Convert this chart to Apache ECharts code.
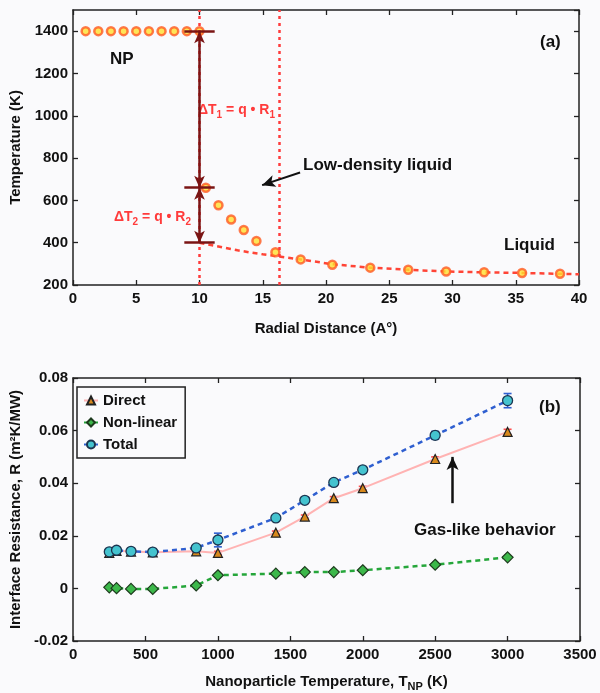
<!DOCTYPE html>
<html><head><meta charset="utf-8">
<script src="https://cdn.jsdelivr.net/npm/echarts@6/dist/echarts.min.js"></script>
<style>html,body{margin:0;padding:0;background:#fafafc}#c{width:600px;height:693px}</style>
</head><body><div id="c"></div>
<script>
// ---------- Panel (a) data ----------
const radius = [1,2,3,4,5,6,7,8,9,10,10.5,11.5,12.5,13.5,14.5,16,18,20.5,23.5,26.5,29.5,32.5,35.5,38.5];
const temperature = [1400,1400,1400,1400,1400,1400,1400,1400,1400,1400,660,577,510,460,408,355,321,296,282,272,264,260,257,253];
const fitRadius = [10,11,12,13,14,15,16,18,20.5,23.5,26.5,29.5,32.5,35.5,38.5,40];
const fitTemp = [400,388,376,364,354,345,337,321,298,282,272,264,260,257,253,251];
const boundaries = [10,16.3];
const bracketLevels = [1400,660,400];
const bracketSpan = [8.8,11.2];
const arrowLD = [[17.95,732],[14.95,672]];
const xTicksA = [0,40,5];
const yTicksA = [200,1500,200];

// ---------- Panel (b) data ----------
const tNP = [250,300,400,550,850,1000,1400,1600,1800,2000,2500,3000];
const rDirect = [0.0135,0.0143,0.0140,0.0137,0.0141,0.0135,0.0212,0.0273,0.0343,0.0381,0.0492,0.0595];
const errDirect = [0.0005,0.0005,0.0005,0.0005,0.0005,0.0006,0.0006,0.0006,0.0006,0.0007,0.0008,0.0010];
const rNonlinear = [0.0004,0.0001,-0.0002,-0.0002,0.0011,0.0050,0.0056,0.0062,0.0062,0.0069,0.0090,0.0118];
const errNonlinear = [0.0004,0.0004,0.0004,0.0004,0.0005,0.0008,0.0005,0.0005,0.0005,0.0005,0.0005,0.0006];
const rTotal = [0.0139,0.0145,0.0141,0.0138,0.0154,0.0184,0.0268,0.0335,0.0403,0.0451,0.0582,0.0714];
const errTotal = [0.0005,0.0005,0.0005,0.0005,0.0006,0.0026,0.0006,0.0008,0.0008,0.0010,0.0015,0.0027];
const arrowGas = [[2620,0.0324],[2620,0.0500]];
const xTicksB = [0,3500,500];
const yTicksB = [-0.02,0.08,0.02];

const FONT = 'Liberation Sans, Arial, sans-serif';
const chart = echarts.init(document.getElementById('c'), null, {renderer:'canvas'});

function pairs(xs, ys){ return xs.map((x,i)=>[x, ys[i]]); }
function errData(xs, ys, es){ return xs.map((x,i)=>[x, ys[i]-es[i], ys[i]+es[i]]); }
function errRender(color, w){
  return function(params, api){
    const x = api.value(0), lo = api.value(1), hi = api.value(2);
    const p1 = api.coord([x, lo]), p2 = api.coord([x, hi]);
    const st = {stroke: color, lineWidth: 1.6};
    return {type:'group', children:[
      {type:'line', shape:{x1:p1[0],y1:p1[1],x2:p2[0],y2:p2[1]}, style:st},
      {type:'line', shape:{x1:p1[0]-w,y1:p1[1],x2:p1[0]+w,y2:p1[1]}, style:st},
      {type:'line', shape:{x1:p2[0]-w,y1:p2[1],x2:p2[0]+w,y2:p2[1]}, style:st}
    ]};
  };
}

const axisLine = {show:true, onZero:false, lineStyle:{color:'#222', width:1.5}};
const tick = {show:true, inside:true, length:5, lineStyle:{color:'#222', width:1.3}};
const lbl = {color:'#111', fontSize:15, fontWeight:'bold', fontFamily:FONT};
const nameStyle = {color:'#111', fontSize:15, fontWeight:'bold', fontFamily:FONT};
const plain = v => String(v);
const fix2 = v => (Math.abs(v) < 1e-9 ? '0' : v.toFixed(2));

function xAx(grid, t, pos, main, extra){
  return Object.assign({type:'value', gridIndex:grid, position:pos, min:t[0], max:t[1], interval:t[2],
    axisLine, axisTick:tick, splitLine:{show:false},
    axisLabel: main ? Object.assign({margin:6, formatter:plain}, lbl) : {show:false}}, extra||{});
}
function yAx(grid, t, pos, main, extra){
  return Object.assign({type:'value', gridIndex:grid, position:pos, min:t[0], max:t[1], interval:t[2],
    axisLine, axisTick:tick, splitLine:{show:false},
    axisLabel: main ? Object.assign({margin:5, formatter:plain}, lbl) : {show:false}}, extra||{});
}

const hSegs = bracketLevels.map(v => [{coord:[bracketSpan[0], v]}, {coord:[bracketSpan[1], v]}]);
const redRich = {
  m:{fill:'#ff3b3b', fontSize:14, fontWeight:'bold', fontFamily:FONT, lineHeight:20, verticalAlign:'middle'},
  s:{fill:'#ff3b3b', fontSize:10, fontWeight:'bold', fontFamily:FONT, lineHeight:20, verticalAlign:'bottom', padding:[0,0,0,0]}
};

const option = {
  backgroundColor:'#fafafc',
  animation:false,
  grid:[
    {left:67, top:10, width:512, height:275},
    {left:68, top:378, width:512, height:274}
  ],
  xAxis:[
    xAx(0, xTicksA, 'bottom', true, {name:'Radial Distance (A°)', nameLocation:'middle', nameGap:36, nameTextStyle:nameStyle}),
    xAx(0, xTicksA, 'top', false),
    xAx(1, xTicksB, 'bottom', true, {name:'Nanoparticle Temperature, T{sub|NP} (K)', nameLocation:'middle', nameGap:31,
      nameTextStyle:Object.assign({}, nameStyle, {lineHeight:20, rich:{sub:{fontSize:11, fontWeight:'bold', fontFamily:FONT, color:'#111', verticalAlign:'bottom', lineHeight:14, padding:[6,0,0,0]}}})}),
    xAx(1, xTicksB, 'top', false)
  ],
  yAxis:[
    yAx(0, yTicksA, 'left', true, {name:'Temperature (K)', nameLocation:'middle', nameGap:50, nameTextStyle:nameStyle,
      axisLabel:Object.assign({margin:5, showMaxLabel:false, formatter:plain}, lbl)}),
    yAx(0, yTicksA, 'right', false),
    yAx(1, yTicksB, 'left', true, {name:'Interface Resistance, R (m²K/MW)', nameLocation:'middle', nameGap:49, nameTextStyle:nameStyle,
      axisLabel:Object.assign({margin:5, formatter:fix2}, lbl)}),
    yAx(1, yTicksB, 'right', false)
  ],
  legend:{
    left:77, top:387, orient:'vertical', selectedMode:false,
    data:['Direct','Non-linear','Total'],
    itemWidth:14, itemHeight:10, itemGap:5,
    padding:[5,8,5,6], borderColor:'#222', borderWidth:1.5, backgroundColor:'#fafafc',
    textStyle:{color:'#111', fontSize:15, fontWeight:'bold', fontFamily:FONT, lineHeight:17}
  },
  series:[
    // ---- panel (a) ----
    {type:'line', name:'fit', xAxisIndex:0, yAxisIndex:0, data:pairs(fitRadius, fitTemp), showSymbol:false, symbol:'none',
      lineStyle:{color:'#ff4436', width:2.5, type:[5,4]}, z:2,
      markLine:{silent:true, symbol:'none', label:{show:false}, animation:false,
        lineStyle:{color:'#ff3b3b', width:2.5, type:[3,4]},
        data: boundaries.map(b => ({xAxis:b}))}},
    {type:'scatter', name:'profile', xAxisIndex:0, yAxisIndex:0, data:pairs(radius, temperature), symbol:'circle', symbolSize:8,
      itemStyle:{color:'#ffe02e', borderColor:'#ff5a24', borderWidth:2.5}, z:3},
    {type:'line', name:'bracket', xAxisIndex:0, yAxisIndex:0, data:[], z:5,
      markLine:{silent:true, symbol:'none', label:{show:false}, animation:false,
        lineStyle:{color:'#7a1414', width:2.5, type:'solid'},
        data: hSegs.concat([
          [{coord:[10, bracketLevels[0]], symbol:'arrow', symbolSize:[8,12]}, {coord:[10, bracketLevels[1]], symbol:'arrow', symbolSize:[8,12]}],
          [{coord:[10, bracketLevels[1]], symbol:'arrow', symbolSize:[8,12]}, {coord:[10, bracketLevels[2]], symbol:'arrow', symbolSize:[8,12]}]
        ])}},
    {type:'line', name:'ldArrow', xAxisIndex:0, yAxisIndex:0, data:[], z:5,
      markLine:{silent:true, symbol:['none','arrow'], symbolSize:[9,13], label:{show:false}, animation:false,
        lineStyle:{color:'#111', width:2, type:'solid'},
        data:[[{coord:arrowLD[0]},{coord:arrowLD[1]}]]}},
    // ---- panel (b) ----
    {type:'line', name:'Direct', xAxisIndex:2, yAxisIndex:2, data:pairs(tNP, rDirect), symbol:'triangle', symbolSize:9,
      lineStyle:{color:'#ffb3b3', width:2, type:'solid'},
      itemStyle:{color:'#d8891c', borderColor:'#222', borderWidth:1.2}, z:3},
    {type:'custom', name:'errDirect', xAxisIndex:2, yAxisIndex:2, data:errData(tNP, rDirect, errDirect),
      renderItem:errRender('#ff4d4d', 4), encode:{x:0, y:[1,2]}, z:2},
    {type:'line', name:'Non-linear', xAxisIndex:2, yAxisIndex:2, data:pairs(tNP, rNonlinear), symbol:'diamond', symbolSize:11,
      lineStyle:{color:'#25a63a', width:2.5, type:[5,4]},
      itemStyle:{color:'#3cb84a', borderColor:'#1d3a1d', borderWidth:1.2}, z:3},
    {type:'custom', name:'errNonlinear', xAxisIndex:2, yAxisIndex:2, data:errData(tNP, rNonlinear, errNonlinear),
      renderItem:errRender('#25a63a', 3), encode:{x:0, y:[1,2]}, z:2},
    {type:'line', name:'Total', xAxisIndex:2, yAxisIndex:2, data:pairs(tNP, rTotal), symbol:'circle', symbolSize:10,
      lineStyle:{color:'#2f5fd0', width:2.5, type:[5,4]},
      itemStyle:{color:'#44c3cf', borderColor:'#1c3550', borderWidth:1.3}, z:4},
    {type:'custom', name:'errTotal', xAxisIndex:2, yAxisIndex:2, data:errData(tNP, rTotal, errTotal),
      renderItem:errRender('#2f5fd0', 4), encode:{x:0, y:[1,2]}, z:3},
    {type:'line', name:'gasArrow', xAxisIndex:2, yAxisIndex:2, data:[], z:5,
      markLine:{silent:true, symbol:['none','arrow'], symbolSize:[9,13], label:{show:false}, animation:false,
        lineStyle:{color:'#111', width:2.5, type:'solid'},
        data:[[{coord:arrowGas[0]},{coord:arrowGas[1]}]]}}
  ],
  graphic:[
    {type:'text', x:110, y:59, style:{text:'NP', fill:'#111', font:'bold 17px '+FONT, verticalAlign:'middle'}},
    {type:'text', x:198, y:110, style:{text:'{m|ΔT}{s|1}{m| = q • R}{s|1}', rich:redRich, verticalAlign:'middle'}},
    {type:'text', x:114, y:217, style:{text:'{m|ΔT}{s|2}{m| = q • R}{s|2}', rich:redRich, verticalAlign:'middle'}},
    {type:'text', x:303, y:165, style:{text:'Low-density liquid', fill:'#111', font:'bold 17px '+FONT, verticalAlign:'middle'}},
    {type:'text', x:540, y:42, style:{text:'(a)', fill:'#111', font:'bold 17px '+FONT, verticalAlign:'middle'}},
    {type:'text', x:504, y:245, style:{text:'Liquid', fill:'#111', font:'bold 17px '+FONT, verticalAlign:'middle'}},
    {type:'text', x:539, y:407, style:{text:'(b)', fill:'#111', font:'bold 17px '+FONT, verticalAlign:'middle'}},
    {type:'text', x:414, y:530, style:{text:'Gas-like behavior', fill:'#111', font:'bold 17px '+FONT, verticalAlign:'middle'}}
  ]
};
chart.setOption(option);
</script>
</body></html>
